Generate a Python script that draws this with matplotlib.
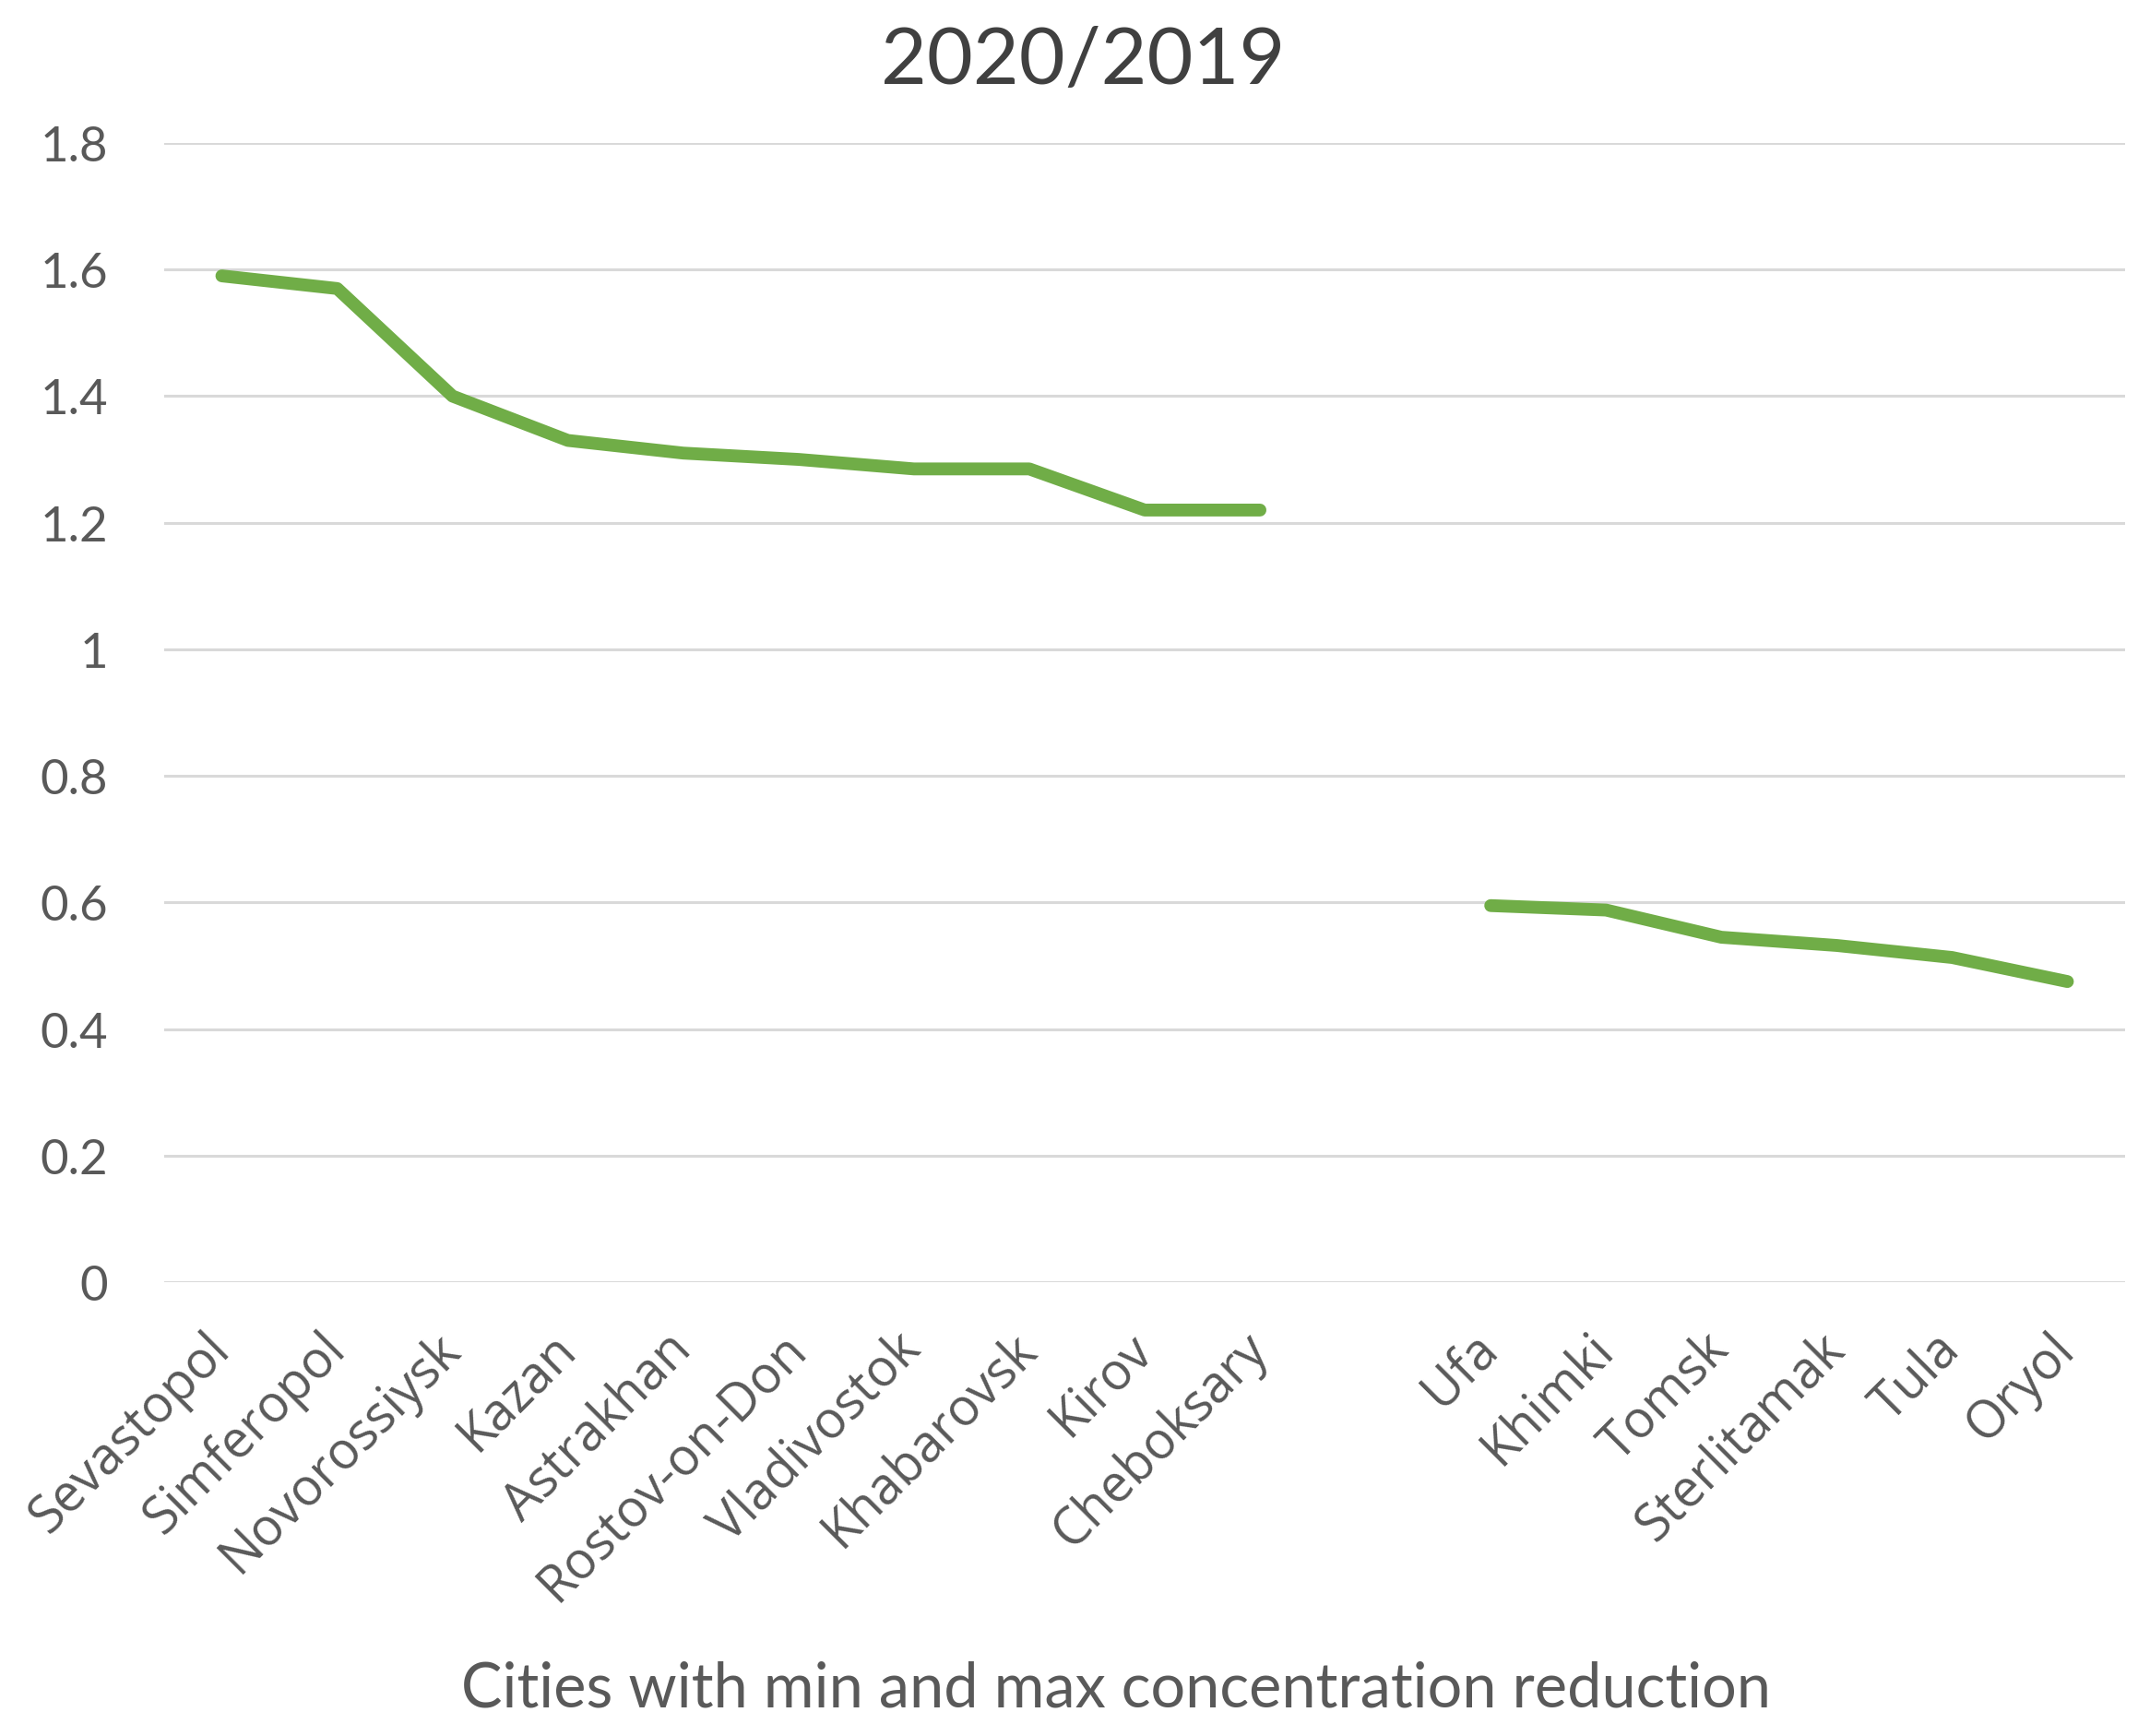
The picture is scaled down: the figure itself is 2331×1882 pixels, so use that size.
import numpy as np
import matplotlib
matplotlib.use("Agg")
import matplotlib.pyplot as plt

cities = ["Sevastopol", "Simferopol", "Novorossiysk", "Kazan", "Astrakhan",
          "Rostov-on-Don", "Vladivostok", "Khabarovsk", "Kirov", "Cheboksary",
          "", "Ufa", "Khimki", "Tomsk", "Sterlitamak", "Tula", "Oryol"]
ratio = [1.59, 1.57, 1.40, 1.33, 1.31, 1.30, 1.285, 1.285, 1.22, 1.22,
         np.nan, 0.595, 0.588, 0.545, 0.532, 0.513, 0.475]
yticks = [0, 0.2, 0.4, 0.6, 0.8, 1.0, 1.2, 1.4, 1.6, 1.8]
ytick_labels = ["0", "0.2", "0.4", "0.6", "0.8", "1", "1.2", "1.4", "1.6", "1.8"]
title = "2020/2019"
xlabel = "Cities with min and max concentration reduction"

W, H = 2331, 1883
fig = plt.figure(figsize=(W / 100, H / 100), dpi=100)
ax = fig.add_axes([178 / W, 1 - 1391 / H, (2304 - 178) / W, (1391 - 156) / H])

x = np.arange(len(cities))
ax.plot(x, ratio, color="#70AD47", lw=10, solid_capstyle="round",
        solid_joinstyle="round", zorder=3)

ax.set_xlim(-0.5, len(cities) - 0.5)
ax.set_ylim(0, 1.8)
ax.set_yticks(yticks)
ax.set_yticklabels(ytick_labels, fontsize=38, color="#595959", family="Lato")
ax.yaxis.grid(True, color="#D9D9D9", lw=2.2)
ax.set_axisbelow(True)
for s in ax.spines.values():
    s.set_visible(False)
ax.tick_params(axis="y", length=0, pad=44)
ax.tick_params(axis="x", length=0, pad=46)

ax.set_xticks(x)
ax.set_xticklabels(cities, rotation=45, ha="right", va="center",
                   rotation_mode="anchor", fontsize=40, color="#595959",
                   family="Open Sans")

fig.text(1174 / W, 1 - 67 / H, title, ha="center", va="center",
         fontsize=62, color="#404040", family="Lato")
fig.text(1210 / W, 1 - 1832 / H, xlabel, ha="center", va="center",
         fontsize=48, color="#595959", family="Lato")

fig.savefig("out.png", dpi=100, facecolor="white")
